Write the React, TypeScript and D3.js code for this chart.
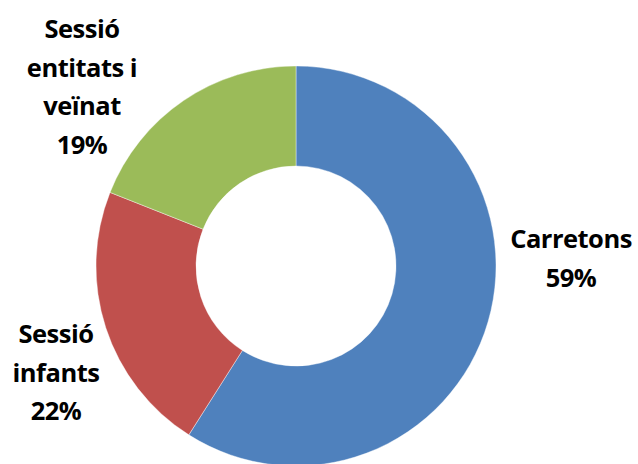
import React from "react";
import * as d3 from "d3";

const categories = ["Carretons", "Sessió infants", "Sessió entitats i veïnat"];
const values = [59, 22, 19];
const colors = ["#4F81BD", "#C0504D", "#9BBB59"];
const labelLines = [
  ["Carretons", "59%"],
  ["Sessió", "infants", "22%"],
  ["Sessió", "entitats i", "veïnat", "19%"],
];
const labelAnchors: [number, number][] = [
  [571, 248],
  [56, 343],
  [82, 38],
];

export default function App() {
  const W = 638, H = 464;
  const cx = 296, cy = 266, outerR = 200, innerR = 100;
  const pie = d3.pie<number>().sort(null).value((d) => d);
  const arcs = pie(values);
  const arc = d3.arc<d3.PieArcDatum<number>>().innerRadius(innerR).outerRadius(outerR);
  const lineH = 38.5;
  return (
    <svg width={W} height={H} style={{ position: "absolute", left: 0, top: 0 }}>
      <rect width={W} height={H} fill="#fff" />
      <g transform={`translate(${cx},${cy})`}>
        {arcs.map((a, i) => (
          <path key={categories[i]} d={arc(a) || ""} fill={colors[i]} stroke="#fff" strokeWidth={0.4} />
        ))}
      </g>
      {labelLines.map((lines, i) => (
        <text
          key={i}
          x={labelAnchors[i][0]}
          y={labelAnchors[i][1]}
          textAnchor="middle"
          fontFamily="'Open Sans', sans-serif"
          fontWeight="bold"
          fontSize={25.5}
          letterSpacing={-0.5}
          fill="#000"
        >
          {lines.map((l, j) => (
            <tspan key={j} x={labelAnchors[i][0]} dy={j === 0 ? 0 : lineH}>
              {l}
            </tspan>
          ))}
        </text>
      ))}
    </svg>
  );
}
